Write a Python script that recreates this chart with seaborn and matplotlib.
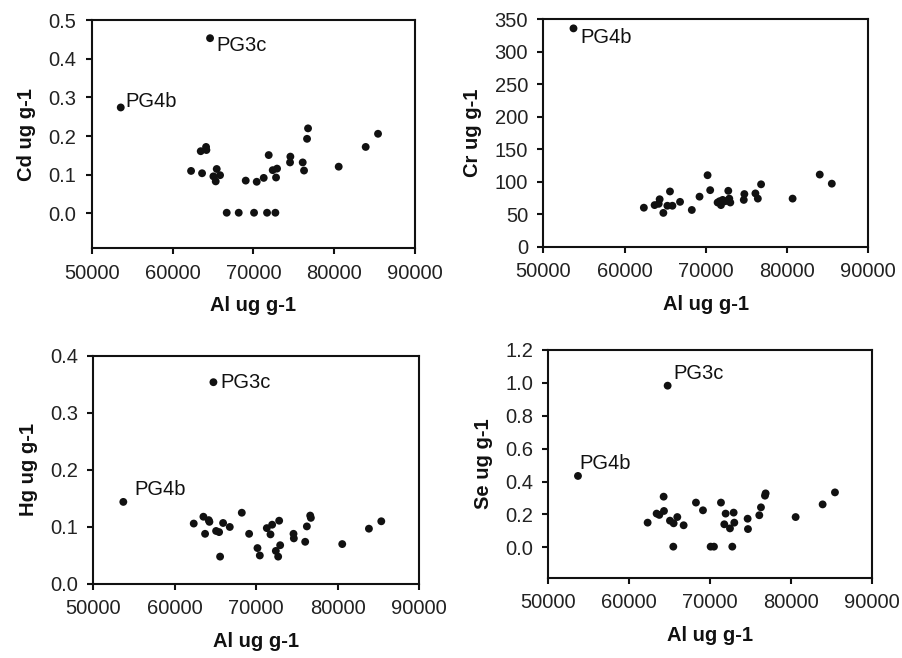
import matplotlib
matplotlib.use("Agg")
import matplotlib.pyplot as plt
import seaborn as sns
import pandas as pd

# ---- data ----
al_cd = [64639, 53588, 62289, 63485, 64144, 64186, 63650, 65464, 65052, 65340,
         65876, 66701, 68186, 69052, 70082, 70412, 71278, 71691, 71897, 72392,
         72928, 72804, 72722, 74577, 74536, 76103, 76268, 76639, 76763, 80557,
         83897, 85423]
cd = [0.453, 0.274, 0.110, 0.161, 0.172, 0.164, 0.104, 0.115, 0.096, 0.083,
      0.099, 0.002, 0.002, 0.085, 0.002, 0.082, 0.092, 0.002, 0.151, 0.112,
      0.116, 0.093, 0.002, 0.147, 0.132, 0.132, 0.111, 0.193, 0.220, 0.121,
      0.172, 0.206]

al_cr = [53711, 62372, 63696, 64315, 64200, 65588, 64772, 65267, 65886, 66826,
         68273, 69224, 70214, 70536, 71449, 71862, 72072, 71700, 72764, 72888,
         73012, 72400, 74670, 74742, 76103, 76400, 76800, 80680, 84021, 85505]
cr = [336, 60, 64, 73, 66, 85, 52, 63, 63, 69,
      56.5, 77, 110, 87, 68, 64, 72, 70, 86, 74,
      68, 70, 72, 81, 82, 74, 96, 74, 111, 97]

al_hg = [64754, 53689, 62336, 63525, 64180, 64262, 63730, 65082, 65451, 65574,
         65943, 66762, 68238, 69139, 70164, 70451, 71311, 71762, 71967, 72418,
         72705, 72828, 72951, 74590, 74631, 76025, 76230, 76639, 76721, 80574,
         83852, 85369]
hg = [0.354, 0.144, 0.106, 0.118, 0.112, 0.109, 0.088, 0.093, 0.091, 0.048,
      0.107, 0.100, 0.125, 0.088, 0.063, 0.050, 0.098, 0.087, 0.104, 0.058,
      0.048, 0.111, 0.068, 0.088, 0.080, 0.074, 0.101, 0.120, 0.116, 0.070,
      0.097, 0.110]

al_se = [64733, 53663, 62263, 63374, 63704, 64280, 64239, 65021, 65473, 65432,
         65926, 66708, 68230, 69095, 70041, 70453, 71317, 71893, 71728, 72428,
         72881, 72963, 72716, 74609, 74650, 76049, 76255, 76749, 76831, 80535,
         83868, 85391]
se = [0.983, 0.434, 0.150, 0.205, 0.197, 0.221, 0.308, 0.162, 0.146, 0.004,
      0.184, 0.134, 0.272, 0.225, 0.004, 0.004, 0.272, 0.205, 0.140, 0.115,
      0.211, 0.150, 0.004, 0.174, 0.111, 0.195, 0.243, 0.314, 0.328, 0.184,
      0.261, 0.334]

x_ticks = [50000, 60000, 70000, 80000, 90000]
x_label = "Al ug g-1"

# ---- style ----
sns.set_style("white")
plt.rcParams['font.family'] = ['Liberation Sans', 'DejaVu Sans']
FS = 14.5

fig = plt.figure(figsize=(9.03, 6.58), dpi=100)

panels = [
    dict(x=al_cd, y=cd, ylabel="Cd ug g-1", rect=[0.1016, 0.6226, 0.358, 0.347],
         ylim=(-0.09, 0.5), yticks=[0.0, 0.1, 0.2, 0.3, 0.4, 0.5], fmt="{:.1f}",
         notes=[(0, "PG3c", (4.5, -5.5)), (1, "PG4b", (3.5, 4))]),
    dict(x=al_cr, y=cr, ylabel="Cr ug g-1", rect=[0.6017, 0.6251, 0.3599, 0.3456],
         ylim=(0, 350), yticks=[0, 50, 100, 150, 200, 250, 300, 350], fmt="{:.0f}",
         notes=[(0, "PG4b", (5, -6.5))]),
    dict(x=al_hg, y=hg, ylabel="Hg ug g-1", rect=[0.1033, 0.1125, 0.3607, 0.3465],
         ylim=(0, 0.4), yticks=[0.0, 0.1, 0.2, 0.3, 0.4], fmt="{:.1f}",
         notes=[(0, "PG3c", (5, 0)), (1, "PG4b", (8, 9))]),
    dict(x=al_se, y=se, ylabel="Se ug g-1", rect=[0.6072, 0.122, 0.3588, 0.3461],
         ylim=(-0.185, 1.2), yticks=[0.0, 0.2, 0.4, 0.6, 0.8, 1.0, 1.2], fmt="{:.1f}",
         notes=[(0, "PG3c", (4, 8.5)), (1, "PG4b", (1, 9))]),
]

for p in panels:
    ax = fig.add_axes(p["rect"])
    df = pd.DataFrame({"al": p["x"], "v": p["y"]})
    sns.scatterplot(data=df, x="al", y="v", ax=ax, color="#111111", s=32,
                    edgecolor="none", linewidth=0, legend=False)
    ax.set_xlim(50000, 90000)
    ax.set_xticks(x_ticks)
    ax.set_xticklabels([str(t) for t in x_ticks], fontsize=FS, color="#222222")
    ax.set_ylim(*p["ylim"])
    ax.set_yticks(p["yticks"])
    ax.set_yticklabels([p["fmt"].format(t) for t in p["yticks"]], fontsize=FS,
                       color="#222222")
    ax.set_xlabel(x_label, fontsize=FS, fontweight="bold", labelpad=10,
                  color="#111111")
    ax.set_ylabel(p["ylabel"], fontsize=FS, fontweight="bold", labelpad=9,
                  color="#111111")
    for s in ax.spines.values():
        s.set_visible(True)
        s.set_linewidth(1.5)
        s.set_color("#111111")
    ax.tick_params(axis="both", direction="out", length=4, width=1.5,
                   color="#111111", pad=7, bottom=True, left=True,
                   top=False, right=False)
    for idx, txt, off in p["notes"]:
        ax.annotate(txt, (p["x"][idx], p["y"][idx]), xytext=off,
                    textcoords="offset points", ha="left", va="center",
                    fontsize=FS, color="#111111")

fig.savefig("out.png", dpi=100)
